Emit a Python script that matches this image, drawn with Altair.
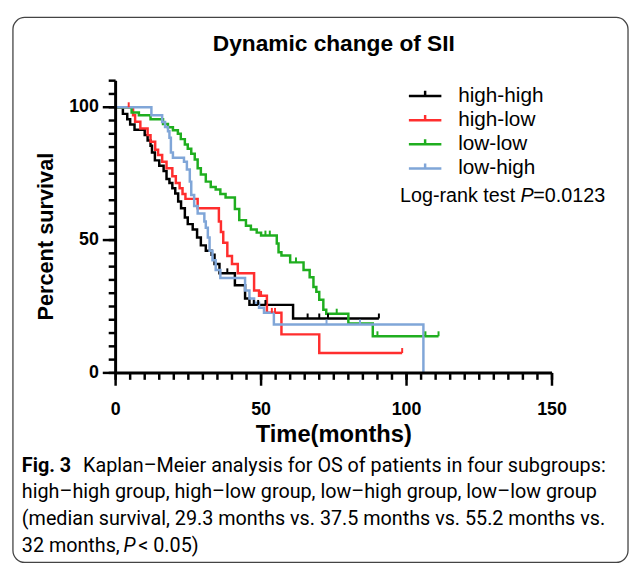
import altair as alt
import pandas as pd

groups = ["high-high", "high-low", "low-low", "low-high"]
colors = ["#000000", "#ff2e2e", "#1fae1f", "#80a6d8"]

# Kaplan-Meier step points (time in months, percent survival)
hh_t = [0, 2.5, 4, 5, 6.5, 10, 11, 12, 12.5, 13.5, 15, 16.5, 17.5, 18.5, 19.5, 20.5, 21.5, 22.5, 23.8, 24.8,
        26.5, 28, 29.3, 31, 33, 34, 35.7, 41, 44.5, 46, 61, 90.5]
hh_s = [100, 97.5, 95.5, 93.5, 91.5, 89.5, 87.5, 85.5, 83, 80, 78, 76, 73, 71.5, 69.5, 67.5, 64.5, 62, 58.5, 56,
        54, 51, 48, 46, 44.5, 41, 37.5, 33, 28, 25.6, 20.5, 20.5]
hh_ct = [38.4, 47.5, 49, 51.5, 66, 70, 73, 90.5]
hh_cs = [37.5, 25.6, 25.6, 25.6, 20.5, 20.5, 20.5, 20.5]

hl_t = [0, 6, 6.7, 8.5, 11, 12, 13.6, 14.6, 16, 17.5, 19.5, 20.7, 22, 23, 24, 28.2, 35.5, 36.2, 37, 38.4,
        40, 42, 47.6, 49.3, 52, 57, 70, 98.5]
hl_s = [100, 97, 94.5, 92, 89.5, 87, 84, 82, 79.5, 77, 74, 71.5, 69.5, 67.3, 65.5, 62, 57, 53, 49, 44,
        41, 37.5, 31, 29, 22.6, 14.5, 7.5, 7.5]
hl_ct = [4.5, 50, 53.7, 54.8, 98.5]
hl_cs = [100, 29, 22.6, 22.6, 7.5]

ll_t = [0, 5.5, 8, 12, 16.3, 18, 19.7, 21.4, 22.4, 23.8, 24.8, 26, 27.2, 28.2, 29.3, 31, 32.7, 34.4, 36, 37.8,
        41, 42.5, 44.8, 46.5, 48.5, 50, 55.4, 56, 57, 60, 64.6, 66.7, 68, 69, 70, 71.4, 72.4, 80, 88.4, 111]
ll_s = [100, 98, 97, 95.5, 93.7, 92.5, 91.3, 90, 88, 86, 84.4, 82.5, 80.3, 77, 74.7, 72, 70, 69, 67.3, 66,
        61.7, 57.5, 55.4, 54, 52.8, 51.7, 48.7, 45.4, 44.2, 41.6, 38.7, 36, 32.3, 30.5, 27.5, 23.8, 22.3, 18.6, 13.8, 13.8]
ll_ct = [51.5, 53, 62, 76, 90, 106.5, 111]
ll_cs = [51.7, 51.7, 41.6, 22.3, 13.8, 13.8, 13.8]

lh_t = [0, 12.3, 16, 17, 18, 18.5, 19, 19.7, 23.5, 24.5, 25.5, 26, 27, 28.2, 30.5, 31, 31.7, 32.3, 33.3, 34.4,
        36, 44.5, 46, 47.6, 49.3, 51, 54.4, 105.8]
lh_s = [100, 97, 94.4, 92.6, 91, 88.5, 83, 81, 79.5, 76.6, 72, 67, 62.8, 60, 57, 54.6, 51, 46, 42.4, 38.7,
        35.7, 31, 28, 26.4, 24.5, 22.6, 18.2, 0]
lh_ct = [72.5, 84]
lh_cs = [18.2, 18.2]

x_major = [0, 50, 100, 150]
x_minor = list(range(0, 151, 5))
y_major = [0, 50, 100]
y_minor = list(range(0, 111, 5))
x_domain = [0, 150]
y_domain = [0, 110]

curves = [(groups[0], hh_t, hh_s), (groups[1], hl_t, hl_s), (groups[2], ll_t, ll_s), (groups[3], lh_t, lh_s)]
cens = [(groups[0], hh_ct, hh_cs), (groups[1], hl_ct, hl_cs), (groups[2], ll_ct, ll_cs), (groups[3], lh_ct, lh_cs)]

rows = []
for g, ts, ss in curves:
    for i, (t, s) in enumerate(zip(ts, ss)):
        rows.append({"group": g, "t": t, "s": s, "i": i})
df = pd.DataFrame(rows)

crows = []
for g, ts, ss in cens:
    for t, s in zip(ts, ss):
        crows.append({"group": g, "t": t, "s": s})
cdf = pd.DataFrame(crows)

FONT = "Liberation Sans"
H = 296
AX = "#000000"

xs = alt.Scale(domain=x_domain, nice=False, zero=False)
ys = alt.Scale(domain=y_domain, nice=False, zero=False)
color_scale = alt.Scale(domain=groups, range=colors)


def Xq(field):
    return alt.X(field, scale=xs, axis=None)


def Yq(field):
    return alt.Y(field, scale=ys, axis=None)


lines = alt.Chart(df).mark_line(interpolate="step-after", strokeWidth=2.5).encode(
    x=Xq("t:Q"), y=Yq("s:Q"),
    color=alt.Color("group:N", scale=color_scale, sort=groups,
                    legend=alt.Legend(title=None, orient="none", legendX=303, legendY=5,
                                      symbolType="M-1.9,0H1.9M0,0V-0.6", symbolSize=300,
                                      symbolStrokeWidth=2.5, labelFont=FONT, labelFontSize=21,
                                      labelColor="black", labelOffset=23, rowPadding=2.5, padding=0)),
    order=alt.Order("i:Q"),
)

cticks = alt.Chart(cdf).mark_rule(strokeWidth=2, y2Offset=-5).encode(
    x=Xq("t:Q"), y=Yq("s:Q"), y2="s:Q",
    color=alt.Color("group:N", scale=color_scale, legend=None),
)

# hand-built axes: ticks as small bars (tick marks), domain as rules
tick_x_min = pd.DataFrame({"v": x_minor})
tick_x_maj = pd.DataFrame({"v": x_major})
tick_y_min = pd.DataFrame({"v": y_minor})
tick_y_maj = pd.DataFrame({"v": y_major})

xmin = alt.Chart(tick_x_min).mark_tick(orient="vertical", size=7, thickness=2.5, color=AX, opacity=1,
                                       yOffset=3.5).encode(x=Xq("v:Q"), y=alt.value(H))
xmaj = alt.Chart(tick_x_maj).mark_tick(orient="vertical", size=13, thickness=2.5, color=AX, opacity=1,
                                       yOffset=6.5).encode(x=Xq("v:Q"), y=alt.value(H))
ymin = alt.Chart(tick_y_min).mark_tick(orient="horizontal", size=7, thickness=2.5, color=AX, opacity=1,
                                       xOffset=-3.5).encode(y=Yq("v:Q"), x=alt.value(0))
ymaj = alt.Chart(tick_y_maj).mark_tick(orient="horizontal", size=13, thickness=2.5, color=AX, opacity=1,
                                       xOffset=-6.5).encode(y=Yq("v:Q"), x=alt.value(0))

xdom = alt.Chart(pd.DataFrame({"a": [x_domain[0]], "b": [x_domain[1]]})).mark_bar(
    color=AX, opacity=1, height=3).encode(x=Xq("a:Q"), x2="b:Q", y=alt.value(H))
ydom = alt.Chart(pd.DataFrame({"a": [y_domain[0]], "b": [y_domain[1]]})).mark_bar(
    color=AX, opacity=1, width=3).encode(y=Yq("a:Q"), y2="b:Q", x=alt.value(0))

xlab = alt.Chart(tick_x_maj).mark_text(
    font=FONT, fontWeight="bold", fontSize=18, color="black", align="center", baseline="middle").encode(
    x=Xq("v:Q"), y=alt.value(H + 38), text="v:Q")
ylab = alt.Chart(tick_y_maj).mark_text(
    font=FONT, fontWeight="bold", fontSize=18, color="black", align="right", baseline="middle").encode(
    y=Yq("v:Q"), x=alt.value(-17), text="v:Q")

dummy = pd.DataFrame({"a": [0]})


def txt(s, x, y, size, weight="normal", style="normal", align="left", angle=0, font=FONT):
    return alt.Chart(dummy).mark_text(text=s, align=align, baseline="middle", fontSize=size,
                                      fontWeight=weight, fontStyle=style, font=font,
                                      color="black", angle=angle).encode(
        x=alt.value(x), y=alt.value(y))


frame = alt.Chart(dummy).mark_rect(fill="transparent", stroke="#444444", strokeWidth=1.3,
                                   cornerRadius=12).encode(
    x=alt.value(-104), x2=alt.value(519), y=alt.value(-64), y2=alt.value(488))

CAP = "Roboto"
texts = [
    txt("Dynamic change of SII", 221, -37, 23, weight="bold", align="center"),
    txt("Percent survival", -70, 158, 22, weight="bold", align="center", angle=270),
    txt("Time(months)", 221, 359, 24, weight="bold", align="center"),
    txt("Log-rank test", 288, 117, 20),
    txt("P", 410, 117, 20, style="italic"),
    txt("=0.0123", 423, 117, 20),
    txt("Fig. 3", -95, 390, 20, weight="bold", font=CAP),
    txt("Kaplan–Meier analysis for OS of patients in four subgroups:", -33, 390, 20, font=CAP),
    txt("high–high group, high–low group, low–high group, low–low group", -95, 417, 20, font=CAP),
    txt("(median survival, 29.3 months vs. 37.5 months vs. 55.2 months vs.", -95, 444, 20, font=CAP),
    txt("32 months,", -95, 471, 20, font=CAP),
    txt("P", 8, 471, 20, style="italic", font=CAP),
    txt("< 0.05)", 23, 471, 20, font=CAP),
]

chart = alt.layer(frame, lines, cticks, xmin, xmaj, ymin, ymaj, xdom, ydom, xlab, ylab, *texts).properties(
    width=442, height=H,
    autosize=alt.AutoSizeParams(type="none"),
    padding={"left": 109, "top": 70, "right": 78, "bottom": 193},
).configure_view(strokeWidth=0)

chart.save("out.html", embed_options={"renderer": "svg", "actions": False})
